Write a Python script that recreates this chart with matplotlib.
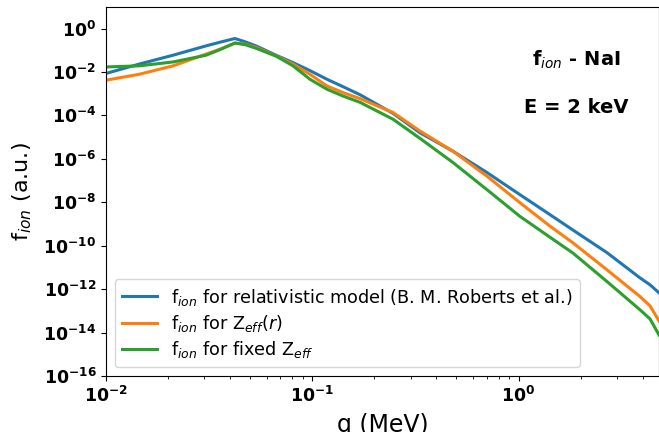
import matplotlib
matplotlib.use("Agg")
import matplotlib.pyplot as plt
import matplotlib.ticker as mticker
import numpy as np

# momentum transfer q (MeV)
q_vals = [0.0100, 0.01445, 0.02113, 0.03055, 0.03573, 0.04217, 0.04718,
          0.05334, 0.06675, 0.08065, 0.09754, 0.1180, 0.1410, 0.1705,
          0.2466, 0.3329, 0.4810, 0.7031, 1.016, 1.421, 1.837, 2.685,
          3.880, 4.342, 4.80]

# log10 of f_ion
roberts_log10 = [-2.07, -1.64, -1.23, -0.80, -0.63, -0.46, -0.61, -0.80,
                 -1.23, -1.57, -1.94, -2.34, -2.68, -3.05, -3.91, -4.80,
                 -5.65, -6.63, -7.65, -8.57, -9.28, -10.32, -11.48, -11.80,
                 -12.17]
zeff_r_log10 = [-2.38, -2.11, -1.72, -1.18, -0.95, -0.67, -0.72, -0.87,
                -1.26, -1.64, -2.11, -2.65, -2.95, -3.23, -3.87, -4.72,
                -5.65, -6.80, -8.02, -9.10, -9.87, -11.11, -12.34, -12.77,
                -13.46]
zeff_fixed_log10 = [-1.77, -1.72, -1.54, -1.23, -0.97, -0.67, -0.74, -0.91,
                    -1.27, -1.72, -2.34, -2.80, -3.11, -3.40, -4.18, -5.06,
                    -6.17, -7.42, -8.65, -9.61, -10.34, -11.65, -12.95,
                    -13.37, -14.11]

labels = [r"f$_{ion}$ for relativistic model (B. M. Roberts et al.)",
          r"f$_{ion}$ for Z$_{eff}$($r$)",
          r"f$_{ion}$ for fixed Z$_{eff}$"]
ytick_exps = [0, -2, -4, -6, -8, -10, -12, -14, -16]
xtick_exps = [-2, -1, 0]

fig = plt.figure(figsize=(6.59, 4.32), dpi=100)
ax = fig.add_axes([0.1609, 0.1296, 0.8391, 0.8547])

q = np.array(q_vals)
for vals, lab in zip([roberts_log10, zeff_r_log10, zeff_fixed_log10], labels):
    ax.plot(q, 10.0 ** np.array(vals), lw=2.2, label=lab)

ax.set_xscale("log")
ax.set_yscale("log")
ax.set_xlim(0.01, 4.8)
ax.set_ylim(1e-16, 1e1)
ax.set_yticks([10.0 ** e for e in ytick_exps])
ax.yaxis.set_minor_locator(mticker.NullLocator())
ax.set_xticks([10.0 ** e for e in xtick_exps])

for lab in ax.get_xticklabels() + ax.get_yticklabels():
    lab.set_fontweight("bold")
    lab.set_fontsize(12.5)

ax.set_xlabel("q (MeV)", fontsize=17)
ax.set_ylabel(r"f$_{ion}$ (a.u.)", fontsize=16)
ax.xaxis.set_label_coords(0.5, -0.10)
ax.yaxis.set_label_coords(-0.130, 0.5)

ax.text(0.85, 0.856, r"f$_{ion}$ - NaI", transform=ax.transAxes,
        fontsize=14, fontweight="bold", ha="center", va="center")
ax.text(0.85, 0.726, "E = 2 keV", transform=ax.transAxes,
        fontsize=14, fontweight="bold", ha="center", va="center")

ax.legend(loc="lower left", fontsize=12.7, labelspacing=0.3)

fig.savefig("out.png", dpi=100)
